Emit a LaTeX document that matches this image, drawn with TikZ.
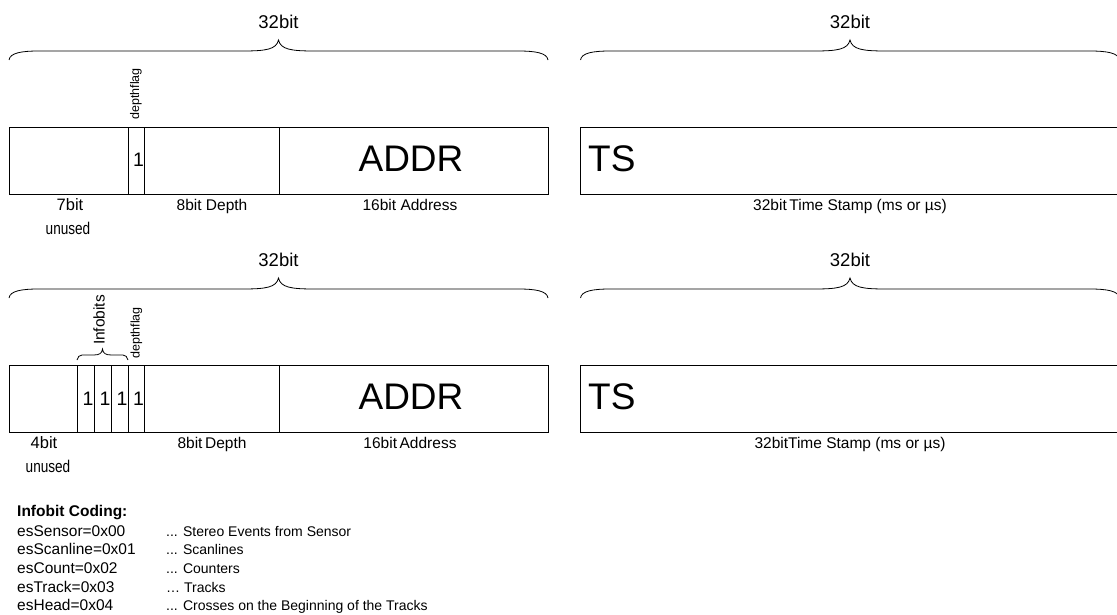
\documentclass[tikz,border=0pt]{standalone}
\usepackage{fontspec}
\setmainfont{Liberation Sans}
\newfontfamily\narrowfont[FakeStretch=0.8]{Liberation Sans}
\newcommand{\curlybrace}[7]{% x0, x1, yend, yflat, ytip, end-curve width, tip-curve width
  \pgfmathsetmacro{\bxm}{(#1+#2)/2}
  \draw[brace] (#1,#3) .. controls (#1+1,#4+2) and (#1+#6*0.4,#4) .. (#1+#6,#4)
    -- (\bxm-#7,#4) .. controls (\bxm-#7*0.35,#4) and (\bxm-#7*0.06,#4-1.5) .. (\bxm,#5)
    .. controls (\bxm+#7*0.06,#4-1.5) and (\bxm+#7*0.35,#4) .. (\bxm+#7,#4)
    -- (#2-#6,#4) .. controls (#2-#6*0.4,#4) and (#2-1,#4+2) .. (#2,#3);
}
\begin{document}
\begin{tikzpicture}[x=1pt,y=-1pt,
  cell/.style={draw, line width=0.9pt, inner sep=0pt, outer sep=0pt, minimum height=67pt},
  lbl/.style={font=\fontsize{15.5}{18}\selectfont, anchor=base, inner sep=0pt},
  unusedlbl/.style={font=\narrowfont\fontsize{17}{20}\selectfont, anchor=base, inner sep=0pt},
  bitlbl/.style={font=\fontsize{16.5}{20}\selectfont, anchor=base, inner sep=0pt},
  big/.style={font=\fontsize{37}{40}\selectfont, inner sep=0pt},
  one/.style={font=\fontsize{19.5}{22}\selectfont, inner sep=0pt},
  hdr/.style={font=\fontsize{18.5}{22}\selectfont, anchor=base, inner sep=0pt},
  vlab/.style={font=\fontsize{12.5}{14}\selectfont, rotate=90, inner sep=0pt},
  vlabb/.style={font=\fontsize{15.5}{18}\selectfont, rotate=90, inner sep=0pt},
  brace/.style={line width=0.8pt},
  leg/.style={font=\fontsize{15.5}{18}\selectfont, anchor=base west, inner sep=0pt},
  legv/.style={font=\fontsize{14}{18}\selectfont, anchor=base west, inner sep=0pt}]
\useasboundingbox (0,0) rectangle (1117,615);
\clip (0,0) rectangle (1117,615);

% ---------- Row 1 ----------
\curlybrace{9}{548}{60}{51}{40}{30}{36}
\curlybrace{580.5}{1119.5}{60}{51}{40}{30}{36}
\node[hdr] (h1l) at (278.5,28.3) {32bit};
\node[hdr] (h1r) at (850,28.3) {32bit};

\node[cell, minimum width=119pt] (u1) at (68.5,160.5) {};
\node[cell, minimum width=16pt] (f1) at (136,160.5) {};
\node[cell, minimum width=135pt] (d1) at (211.5,160.5) {};
\node[cell, minimum width=269pt] (a1) at (413.5,160.5) {};
\node[cell, minimum width=538.5pt] (t1) at (849.75,160.5) {};

\node[one] (o1) at (138.5,160) {1};
\node[big] (addr1) at (411,158.5) {ADDR};
\node[big, anchor=west] (ts1) at (588,159) {TS};
\node[vlab] (df1) at (136,94) {depthflag};

\node[bitlbl] (l1a) at (70,210.5) {7bit};
\node[unusedlbl] (l1b) at (68,234.5) {unused};
\node[lbl] (l1c) at (212,210.5) {8bit Depth};
\node[lbl] (l1d) at (410,210.5) {16bit Address};
\node[lbl] (l1e) at (850,210.5) {32bit\,Time Stamp (ms or µs)};

% ---------- Row 2 ----------
\curlybrace{9}{548}{298}{289}{278}{30}{36}
\curlybrace{580.5}{1119.5}{298}{289}{278}{30}{36}
\node[hdr] (h2l) at (278.5,266.3) {32bit};
\node[hdr] (h2r) at (850,266.3) {32bit};

\node[cell, minimum width=68pt] (u2) at (43,398.5) {};
\node[cell, minimum width=17pt] (i1) at (85.5,398.5) {};
\node[cell, minimum width=17pt] (i2) at (102.5,398.5) {};
\node[cell, minimum width=17pt] (i3) at (119.5,398.5) {};
\node[cell, minimum width=16pt] (f2) at (136,398.5) {};
\node[cell, minimum width=135pt] (d2) at (211.5,398.5) {};
\node[cell, minimum width=269pt] (a2) at (413.5,398.5) {};
\node[cell, minimum width=538.5pt] (t2) at (849.75,398.5) {};

\node[one] (o21) at (88,399) {1};
\node[one] (o22) at (105,399) {1};
\node[one] (o23) at (122,399) {1};
\node[one] (o24) at (138.5,399) {1};
\node[big] (addr2) at (411,397) {ADDR};
\node[big, anchor=west] (ts2) at (588,397) {TS};
\node[vlab] (df2) at (136.5,333) {depthflag};
\node[vlabb] (ib) at (99,320) {Infobits};
\curlybrace{77}{128}{360}{355}{349}{5}{9}

\node[bitlbl] (l2a) at (44,448.5) {4bit};
\node[unusedlbl] (l2b) at (48,472.5) {unused};
\node[lbl] (l2c) at (212,448.5) {8bit\,Depth};
\node[lbl] (l2d) at (410,448.5) {16bit\,Address};
\node[lbl] (l2e) at (850,448.5) {32bitTime Stamp (ms or µs)};

% ---------- Legend ----------
\node[leg] (lg0) at (17,516.5) {\bfseries Infobit Coding:};
\node[leg] (lk1) at (17,536) {esSensor=0x00};
\node[leg] (lk2) at (17,554.7) {esScanline=0x01};
\node[leg] (lk3) at (17,573.4) {esCount=0x02};
\node[leg] (lk4) at (17,592) {esTrack=0x03};
\node[leg] (lk5) at (17,610.5) {esHead=0x04};
\node[legv] (lv1) at (166,536) {... Stereo Events from Sensor};
\node[legv] (lv2) at (166,554.7) {... Scanlines};
\node[legv] (lv3) at (166,573.4) {... Counters};
\node[legv] (lv4) at (166,592) {… Tracks};
\node[legv] (lv5) at (166,610.5) {... Crosses on the Beginning of the Tracks};
\end{tikzpicture}
\end{document}
